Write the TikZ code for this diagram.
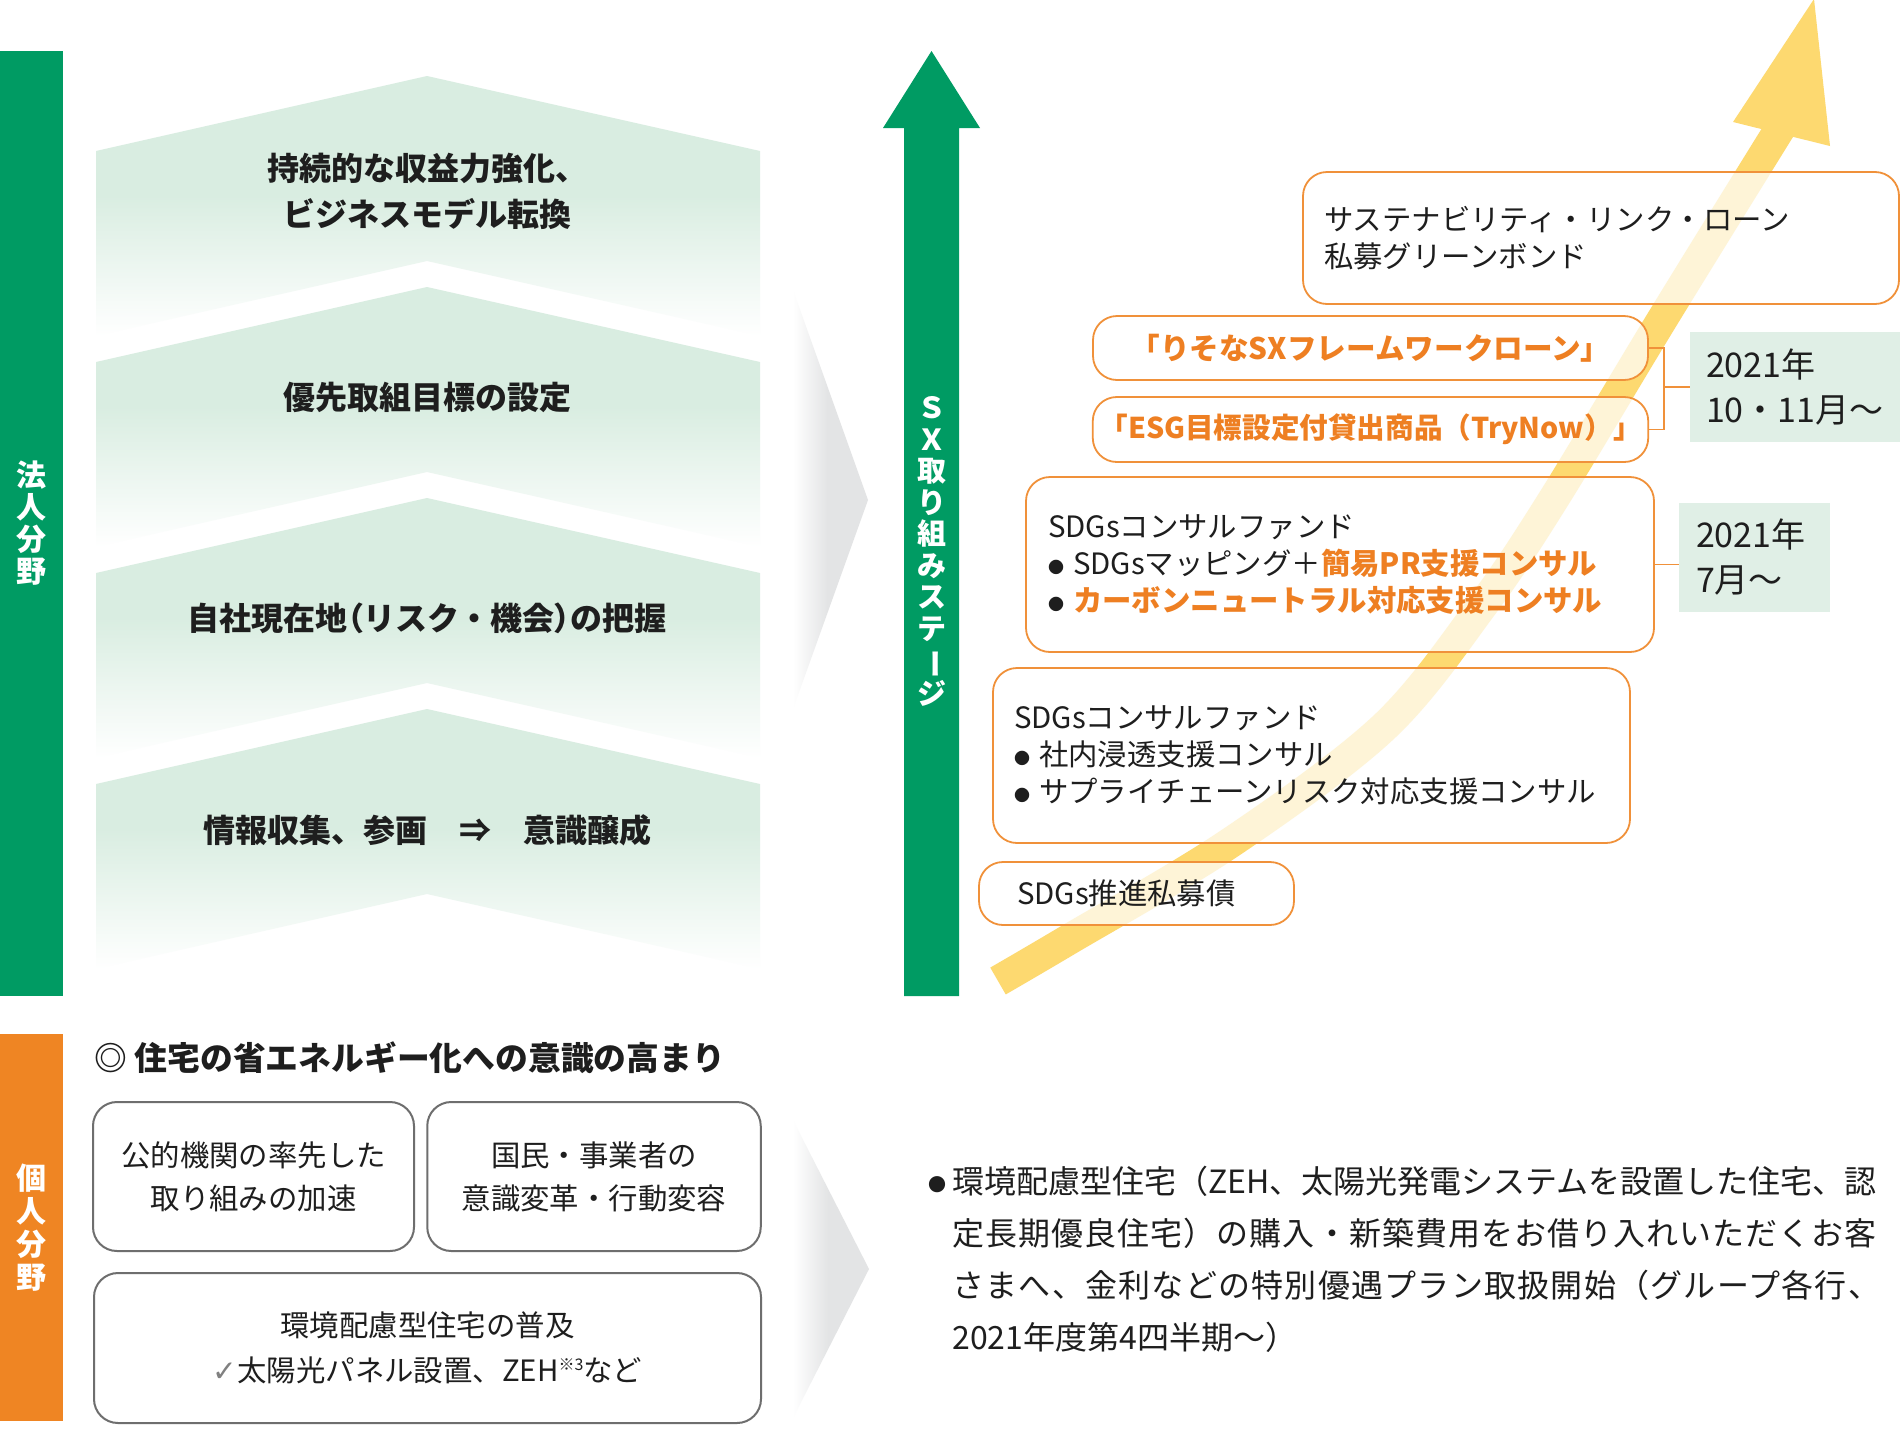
\documentclass[tikz,border=0pt]{standalone}
\usepackage{fontspec}
\usepackage{graphicx}
\setmainfont{Noto Sans CJK JP}
\newfontfamily\dvfont{DejaVu Sans}
\definecolor{sxgreen}{HTML}{009B63}
\definecolor{chev}{HTML}{D9EDE1}
\definecolor{orbar}{HTML}{EF8523}
\definecolor{ortx}{HTML}{EE7F22}
\definecolor{orln}{HTML}{F0913A}
\definecolor{datebg}{HTML}{E0EFE6}
\definecolor{yel}{HTML}{FDD970}
\definecolor{txt}{HTML}{1E1E1E}
\definecolor{gboxc}{HTML}{6E6E6E}
\definecolor{garr}{HTML}{E3E4E5}
\pgfdeclareverticalshading{chevfade}{100bp}{color(0bp)=(white); color(25bp)=(white); color(52bp)=(chev); color(100bp)=(chev)}
\pgfdeclarehorizontalshading{grayfade}{100bp}{color(0bp)=(white); color(25bp)=(white); color(48bp)=(garr); color(100bp)=(garr)}
\newcommand\blt{\makebox[12.5pt][l]{\raisebox{0.5pt}{\fontsize{8}{8}\selectfont ●}}}
\newcommand\pp[1]{{\addfontfeatures{RawFeature=+palt}#1}}
\newcommand\ls[2]{{\addfontfeatures{LetterSpace=#1}#2}}
\begin{document}
\begin{tikzpicture}[x=0.5pt,y=-0.5pt,
  chevtxt/.style={font=\bfseries\fontsize{16}{23}\selectfont, align=center, text=txt, inner sep=0},
  bartxt/.style={font=\bfseries\fontsize{15}{16}\selectfont, align=center, text=white, inner sep=0},
  obox/.style={draw=orln, line width=0.9pt, rounded corners=12pt, fill=white, fill opacity=0.72, text opacity=1, text=txt},
  boxfont/.style={font=\fontsize{14.7}{18.5}\selectfont},
  dbox/.style={fill=datebg, text=txt, align=left, font=\fontsize{17}{22.5}\selectfont},
  conn/.style={draw=orln, line width=0.7pt},
  gbox/.style={draw=gboxc, line width=1pt, rounded corners=12pt, align=center, text=txt, font=\fontsize{14.7}{21.5}\selectfont}
]
\useasboundingbox (0,0) rectangle (1900,1430);
\fill[white] (0,0) rectangle (1900,1430);

% chevrons
\foreach \a in {76,287,498,709}{
  \shade[shading=chevfade] (96,\a+75) -- (427,\a) -- (760,\a+75) -- (760,\a+260) -- (427,\a+185) -- (96,\a+260) -- cycle;
}
\node[chevtxt] (c1) at (427,191) {持続的な収益力強化、\\ビジネスモデル転換};
\node[chevtxt] (c2) at (427,397) {優先取組目標の設定};
\node[chevtxt] (c3) at (427,618) {自社現在地\pp{（}リスク・機会\pp{）}の把握};
\node[chevtxt] (c4) at (427,830) {情報収集、参画　⇒　意識醸成};

% left bars
\node[fill=sxgreen, minimum width=31.5pt, minimum height=472.5pt, bartxt] (hojin) at (31.5,523.5) {法\\人\\分\\野};
\node[fill=orbar, minimum width=31.5pt, minimum height=193.5pt, bartxt, font=\bfseries\fontsize{15}{16.5}\selectfont] (kojin) at (31.5,1227.5) {個\\人\\分\\野};

% gray arrows
\shade[shading=grayfade] (793,290) -- (868,500) -- (793,709) -- cycle;
\shade[shading=grayfade] (793,1120) -- (869,1269) -- (793,1418) -- cycle;

% green SX arrow
\fill[sxgreen] (904,996) -- (904,128) -- (883,128) -- (931.5,51) -- (980,128) -- (959,128) -- (959,996) -- cycle;
\node[font=\bfseries\fontsize{14.5}{15.75}\selectfont, text=white, align=center, inner sep=0] (sx) at (931.5,551.5) {Ｓ\\Ｘ\\取\\り\\組\\み\\ス\\テ\\\rotatebox[origin=c]{-90}{ー}\\ジ};

% yellow arrow
\draw[yel, line width=15.5pt] plot[smooth, tension=0.55] coordinates {(998,981) (1068,940) (1230,843) (1384,727) (1482,606) (1553,500) (1663,318) (1784,122)};
\fill[yel] (1733,122) -- (1814,-1) -- (1830,146) -- cycle;

% orange boxes
\node[obox, boxfont, minimum width=298pt, minimum height=66pt, inner xsep=10.5pt, text width=277pt, align=left] (bA) at (1601,238) {サステナビリティ・リンク・ローン\\私募グリーンボンド};
\node[obox, minimum width=277.5pt, minimum height=32pt, text=ortx, font=\bfseries\fontsize{14.8}{18}\selectfont] (bB) at (1370.5,348) {「りそなSXフレームワークローン」};
\node[obox, minimum width=277.5pt, minimum height=32.5pt, text=ortx, font=\bfseries\fontsize{14.3}{18}\selectfont] (bC) at (1370.5,429.5) {「ESG目標設定付貸出商品（TryNow）」};
\node[obox, boxfont, minimum width=314pt, minimum height=87.5pt, inner xsep=11pt, text width=292pt, align=left] (bD) at (1340,564.5) {SDGsコンサルファンド\\\blt SDGsマッピング＋{\color{ortx}\bfseries 簡易PR支援コンサル}\\\blt{\color{ortx}\bfseries カーボンニュートラル対応支援コンサル}};
\node[obox, boxfont, minimum width=318.5pt, minimum height=87.5pt, inner xsep=10.5pt, text width=297.5pt, align=left] (bE) at (1311.5,755.5) {SDGsコンサルファンド\\\blt 社内浸透支援コンサル\\\blt サプライチェーンリスク対応支援コンサル};
\node[obox, boxfont, minimum width=157.5pt, minimum height=31.5pt, inner xsep=19pt, text width=119.5pt, align=left] (bF) at (1136.5,893.5) {SDGs推進私募債};

% date boxes
\node[dbox, minimum width=105pt, minimum height=55pt, inner xsep=8pt, text width=89pt] (d1) at (1795,387) {2021年\\10・11月～};
\node[dbox, minimum width=75.5pt, minimum height=54.5pt, inner xsep=8.5pt, text width=58.5pt] (d2) at (1754.5,557.5) {2021年\\7月～};

% connectors
\coordinate (brk) at (1664,387);
\draw[conn] (bB.east) -| (brk) |- (bC.east);
\draw[conn] (brk) -- (d1.west);
\draw[conn] (bD.east) -- (bD.east -| d2.west);

% bottom section
\node[anchor=west, font=\bfseries\fontsize{16.4}{20}\selectfont, text=txt, inner sep=0] (head) at (94,1058) {◎ 住宅の省エネルギー化への意識の高まり};
\node[gbox, minimum width=160.5pt, minimum height=74.5pt] (g1) at (253.5,1176.5) {公的機関の率先した\\取り組みの加速};
\node[gbox, minimum width=166.75pt, minimum height=74.5pt] (g2) at (594,1176.5) {国民・事業者の\\意識変革・行動変容};
\node[gbox, minimum width=333.5pt, minimum height=75pt, font=\fontsize{14.7}{22.5}\selectfont] (g3) at (427.5,1348) {環境配慮型住宅の普及\\{\dvfont\color{gray}✓}太陽光パネル設置、ZEH\raisebox{0.7ex}{\fontsize{8}{8}\selectfont ※3}など};

\node[anchor=west, align=left, font=\fontsize{16}{26}\selectfont, text=txt, inner sep=0] (para) at (928,1259.5) {\makebox[12pt][l]{\raisebox{1pt}{\fontsize{9}{9}\selectfont ●}}環境配慮型住宅（ZEH、太陽光発電システムを設置した住宅、認\\\hspace*{12pt}\ls{3.3}{定長期優良住宅）の購入・新築費用をお借り入れいただくお客}\\\hspace*{12pt}\ls{3.9}{さまへ、金利などの特別優遇プラン取扱開始（グループ各行、}\\\hspace*{12pt}2021年度第4四半期～）};
\end{tikzpicture}
\end{document}
